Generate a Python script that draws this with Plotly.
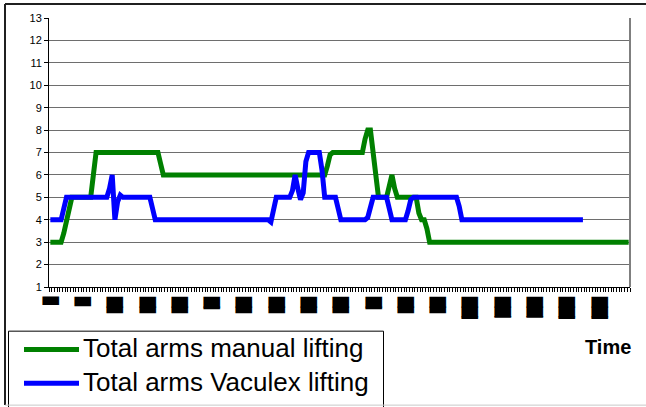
import plotly.graph_objects as go

# Canvas and plot-area geometry (pixels)
W, H = 646, 407
ML, MR, MT, MB = 49, 16, 16, 120
PW, PH = W - ML - MR, H - MT - MB

series_names = ["Total arms manual lifting", "Total arms Vaculex lifting"]
series_colors = ["#008000", "#0000FF"]

# Number of arms in use at each sampled moment
manual = [
    3, 3, 3, 3, 3, 3.4, 3.9, 4.5, 5, 5,
    5, 5, 5, 5, 5, 5, 6, 7, 7, 7,
    7, 7, 7, 7, 7, 7, 7, 7, 7, 7,
    7, 7, 7, 7, 7, 7, 7, 7, 7, 7,
    7, 6.5, 6, 6, 6, 6, 6, 6, 6, 6,
    6, 6, 6, 6, 6, 6, 6, 6, 6, 6,
    6, 6, 6, 6, 6, 6, 6, 6, 6, 6,
    6, 6, 6, 6, 6, 6, 6, 6, 6, 6,
    6, 6, 6, 6, 6, 6, 6, 6, 6, 6,
    6, 6, 6, 6, 6, 6, 6, 6, 6, 6,
    6, 6, 6, 6.4, 6.9, 7, 7, 7, 7, 7,
    7, 7, 7, 7, 7, 7, 7, 7.6, 8, 8,
    7.1, 6, 5, 5, 5, 5, 5.5, 6, 5.4, 5,
    5, 5, 5, 5, 5, 5, 5, 4.3, 4, 4,
    3.6, 3, 3, 3, 3, 3, 3, 3, 3, 3,
    3, 3, 3, 3, 3, 3, 3, 3, 3, 3,
    3, 3, 3, 3, 3, 3, 3, 3, 3, 3,
    3, 3, 3, 3, 3, 3, 3, 3, 3, 3,
    3, 3, 3, 3, 3, 3, 3, 3, 3, 3,
    3, 3, 3, 3, 3, 3, 3, 3, 3, 3,
    3, 3, 3, 3, 3, 3, 3, 3, 3, 3,
    3, 3, 3, 3, 3, 3,
]

vaculex = [
    4, 4, 4, 4, 4, 4.5, 5, 5, 5, 5,
    5, 5, 5, 5, 5, 5, 5, 5, 5, 5,
    5, 5, 5.4, 6, 4, 4.8, 5.1, 5, 5, 5,
    5, 5, 5, 5, 5, 5, 5, 5, 4.5, 4,
    4, 4, 4, 4, 4, 4, 4, 4, 4, 4,
    4, 4, 4, 4, 4, 4, 4, 4, 4, 4,
    4, 4, 4, 4, 4, 4, 4, 4, 4, 4,
    4, 4, 4, 4, 4, 4, 4, 4, 4, 4,
    4, 4, 3.9, 4.6, 5, 5, 5, 5, 5, 5,
    5.3, 6, 5.4, 4.9, 5.2, 6.6, 7, 7, 7, 7,
    7, 6.2, 5, 5, 5, 5, 5, 4.5, 4, 4,
    4, 4, 4, 4, 4, 4, 4, 4, 4.1, 4.6,
    5, 5, 5, 5, 5, 5, 4.5, 4, 4, 4,
    4, 4, 4, 4.4, 4.9, 5, 5, 5, 5, 5,
    5, 5, 5, 5, 5, 5, 5, 5, 5, 5,
    5, 5, 4.6, 4, 4, 4, 4, 4, 4, 4,
    4, 4, 4, 4, 4, 4, 4, 4, 4, 4,
    4, 4, 4, 4, 4, 4, 4, 4, 4, 4,
    4, 4, 4, 4, 4, 4, 4, 4, 4, 4,
    4, 4, 4, 4, 4, 4, 4, 4, 4,
]

# Time labels on every 12th sample
label_step = 12
time_labels = [
    "▊", "▉", "█▋", "█▋", "█▋", "█▎", "█▋", "█▋", "█▋",
    "█▋", "█▎", "█▋", "█▋", "██▎", "██▏", "██▏", "██▎", "██▎",
]
label_positions = [k * label_step for k in range(len(time_labels))]
tick_text = ['<span style="letter-spacing:-1px">' + t + "</span>" for t in time_labels]

y_ticks = list(range(1, 14))
axis_title = "Time"


def px(x, y):
    """Pixel position on the canvas -> paper coordinates."""
    return (x - ML) / PW, (H - MB - y) / PH


fig = go.Figure()
for name, color, values in zip(series_names, series_colors, [manual, vaculex]):
    fig.add_trace(go.Scatter(
        x=list(range(len(values))), y=values, name=name, mode="lines",
        line=dict(color=color, width=5), showlegend=False,
    ))

shapes = []
annotations = []

# Plot-area right edge
shapes.append(dict(type="line", xref="paper", yref="paper", x0=1, x1=1, y0=0, y1=1,
                   line=dict(color="#7f7f7f", width=2)))

# Outer chart frame
fx0, fy0 = px(5, 2)
fx1, fy1 = px(W + 5, H - 1)
shapes.append(dict(type="line", xref="paper", yref="paper", x0=fx0, x1=fx1, y0=fy0, y1=fy0,
                   line=dict(color="#202020", width=2)))
shapes.append(dict(type="line", xref="paper", yref="paper", x0=fx0, x1=fx0, y0=fy0, y1=fy1,
                   line=dict(color="#202020", width=2)))
shapes.append(dict(type="line", xref="paper", yref="paper", x0=fx0, x1=fx1, y0=fy1, y1=fy1,
                   line=dict(color="#c8c8c8", width=1)))

# Legend box with line samples and labels
lx0, ly0 = px(8.5, 331.5)
lx1, ly1 = px(383.5, H + 10)
shapes.append(dict(type="rect", xref="paper", yref="paper", x0=lx0, x1=lx1, y0=ly0, y1=ly1,
                   line=dict(color="black", width=1), fillcolor="white", layer="below"))
for row, (name, color) in enumerate(zip(series_names, series_colors)):
    yrow = 350 + row * 34
    sx0, sy = px(24, yrow)
    sx1, _ = px(79, yrow)
    shapes.append(dict(type="line", xref="paper", yref="paper", x0=sx0, x1=sx1, y0=sy, y1=sy,
                       line=dict(color=color, width=5)))
    tx, ty = px(81, yrow - 1.5)
    annotations.append(dict(text=name, xref="paper", yref="paper", x=tx, y=ty,
                            xanchor="left", yanchor="middle", showarrow=False,
                            font=dict(family="Liberation Sans, Arial", size=26, color="black")))

# Axis title
tx, ty = px(607.5, 347)
annotations.append(dict(text="<b>" + axis_title + "</b>", xref="paper", yref="paper", x=tx, y=ty,
                        xanchor="center", yanchor="middle", showarrow=False,
                        font=dict(family="Liberation Sans, Arial", size=20, color="black")))

fig.update_layout(
    width=W, height=H,
    margin=dict(l=ML, r=MR, t=MT, b=MB, pad=0),
    paper_bgcolor="white", plot_bgcolor="white",
    shapes=shapes, annotations=annotations,
    showlegend=False,
    xaxis=dict(
        range=[-0.5, len(manual) - 0.5], showgrid=False, zeroline=False,
        showline=True, linecolor="black", linewidth=1,
        tickmode="array", tickvals=label_positions, ticktext=tick_text,
        ticks="", tickangle=90, ticklabelstandoff=6,
        tickfont=dict(family="DejaVu Sans", size=14, color="black"),
        minor=dict(tickmode="linear", tick0=-0.5, dtick=1, ticks="outside",
                   ticklen=4, tickcolor="black", tickwidth=1, showgrid=False),
    ),
    yaxis=dict(
        range=[1, 13], tickmode="array", tickvals=y_ticks,
        showgrid=True, gridcolor="#6e6e6e", gridwidth=1, zeroline=False,
        showline=True, linecolor="black", linewidth=1,
        ticks="outside", ticklen=4, tickcolor="black",
        tickfont=dict(family="Liberation Sans, Arial", size=11, color="black"),
    ),
)

fig.write_html("out.html")
